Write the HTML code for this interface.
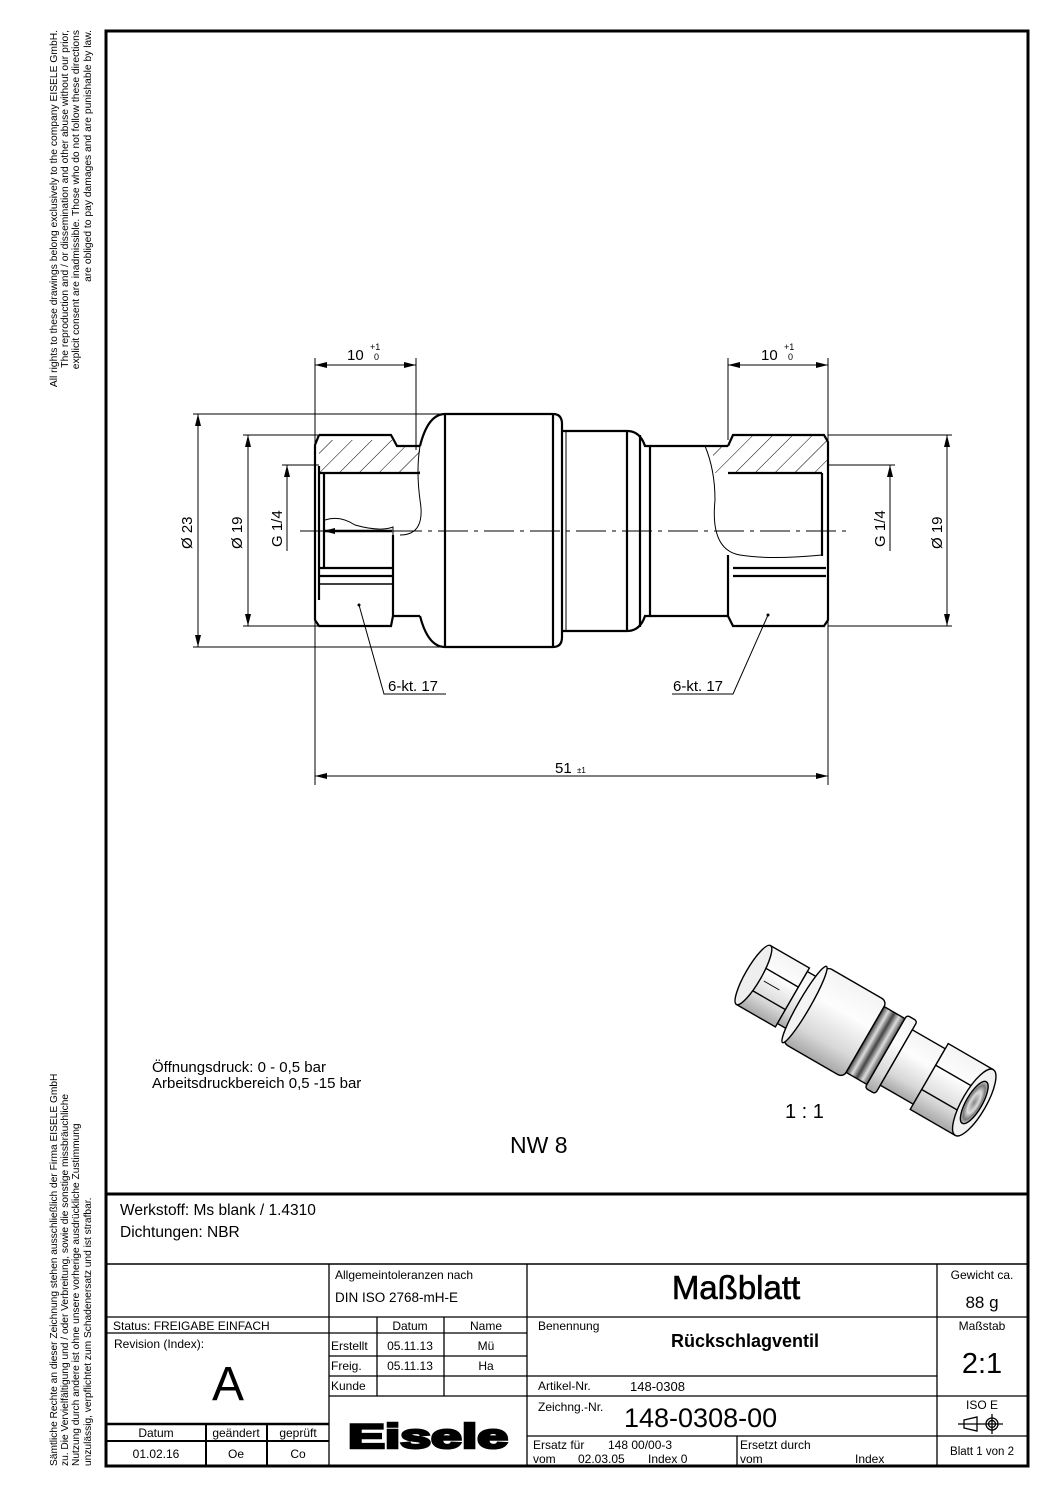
<!DOCTYPE html>
<html><head><meta charset="utf-8"><style>
html,body{margin:0;padding:0;background:#fff}
svg{display:block}
text{font-family:"Liberation Sans",sans-serif;fill:#000}
</style></head><body>
<svg width="1058" height="1497" viewBox="0 0 1058 1497" xmlns="http://www.w3.org/2000/svg">
<defs>
<pattern id="hatch" patternUnits="userSpaceOnUse" width="14" height="14" patternTransform="rotate(45)">
<line x1="0" y1="0" x2="0" y2="14" stroke="#000" stroke-width="1"/></pattern>
<marker id="ar" viewBox="0 0 12 6" refX="12" refY="3" markerWidth="12" markerHeight="6" orient="auto-start-reverse" markerUnits="userSpaceOnUse"><path d="M0,0 L12,3 L0,6 z" fill="#000"/></marker>
<linearGradient id="cyl" x1="0" y1="0" x2="0" y2="1"><stop offset="0" stop-color="#f4f4f4"/><stop offset="0.35" stop-color="#fdfdfd"/><stop offset="0.75" stop-color="#d8d8d8"/><stop offset="1" stop-color="#a8a8a8"/></linearGradient>
<linearGradient id="grv" x1="0" y1="0" x2="1" y2="0"><stop offset="0" stop-color="#444"/><stop offset="0.25" stop-color="#ddd"/><stop offset="0.5" stop-color="#444"/><stop offset="0.75" stop-color="#ddd"/><stop offset="1" stop-color="#555"/></linearGradient>
<radialGradient id="bore"><stop offset="0" stop-color="#888"/><stop offset="0.5" stop-color="#ddd"/><stop offset="0.8" stop-color="#777"/><stop offset="1" stop-color="#ccc"/></radialGradient>
</defs>

<rect x="106" y="31" width="922" height="1435" fill="none" stroke="#000" stroke-width="3"/>
<line x1="106" y1="1194" x2="1028" y2="1194" stroke="#000" stroke-width="3"/>
<line x1="106" y1="1264" x2="1028" y2="1264" stroke="#000" stroke-width="1.5"/>

<g font-size="10.3" text-anchor="end">
<text transform="translate(57,30) rotate(-90)">All rights to these drawings belong exclusively to the company EISELE GmbH.</text>
<text transform="translate(68,30) rotate(-90)">The reproduction and / or dissemination and other abuse without our prior,</text>
<text transform="translate(79,30) rotate(-90)">explicit consent are inadmissible. Those who do not follow these directions</text>
<text transform="translate(91,30) rotate(-90)">are obliged to pay damages and are punishable by law.</text>
</g>
<g font-size="10.2">
<text transform="translate(57,1466) rotate(-90)">Sämtliche Rechte an dieser Zeichnung stehen ausschließlich der Firma EISELE GmbH</text>
<text transform="translate(68,1466) rotate(-90)">zu. Die Vervielfältigung und / oder Verbreitung, sowie die sonstige missbräuchliche</text>
<text transform="translate(79,1466) rotate(-90)">Nutzung durch andere ist ohne unsere vorherige ausdrückliche Zustimmung</text>
<text transform="translate(91,1466) rotate(-90)">unzulässig, verpflichtet zum Schadenersatz und ist strafbar.</text>
</g>

<g stroke="#000" fill="none">
<path d="M319,440 L393,440 L397,446 L420,446 L420,473 L319,473 Z" fill="url(#hatch)" stroke="none"/>
<path d="M733,435 L824,435 L828,440 L828,466 L820,473 L715,473 L712,446 L728,446 Z" fill="url(#hatch)" stroke="none"/>
<g stroke-width="2.2">
<path d="M319,435 L391,435 L397,446 L420,446"/>
<path d="M319,435 L315,445 L315,620 L319,626 L391,626 L393,616 L393,535"/>
<line x1="319" y1="466" x2="319" y2="600"/>
<line x1="319" y1="473" x2="420" y2="473"/>
<line x1="324" y1="473" x2="324" y2="568"/>
<line x1="319" y1="568" x2="393" y2="568"/>
<line x1="319" y1="576" x2="393" y2="576"/>
<path d="M319,584 L393,584" stroke-width="1.5"/>
<line x1="393" y1="616" x2="420" y2="616"/>
<path d="M420,446 Q428,414 445,414 L553,414 Q562,414 562,424 L562,637 Q562,647 553,647 L445,647 Q428,647 420,616"/>
<line x1="445" y1="414" x2="445" y2="647"/>
<line x1="553" y1="414" x2="553" y2="647"/>
<path d="M562,431 L627,431 Q640,431 645,446 L650,446 L650,616 L645,616 Q640,631 627,631 L562,631"/>
<line x1="566" y1="431" x2="566" y2="631" stroke-width="1"/>
<line x1="627" y1="431" x2="627" y2="631"/>
<line x1="640" y1="435" x2="640" y2="627"/>
<line x1="650" y1="446" x2="728" y2="446"/>
<line x1="650" y1="616" x2="728" y2="616"/>
<path d="M728,446 L733,435 L824,435 L828,442 L828,620 L824,626 L733,626 L728,616"/>
<line x1="728" y1="473" x2="822" y2="473"/>
<line x1="822" y1="473" x2="822" y2="556"/>
<line x1="733" y1="568" x2="826" y2="568"/>
<line x1="733" y1="576" x2="826" y2="576"/>
<line x1="728" y1="555" x2="728" y2="616"/>
</g>
<path d="M420,446 Q416,470 420,500 Q426,535 400,535 M325,520 Q340,515 355,525 Q380,532 393,527 L393,535" stroke-width="1"/>
<path d="M705,446 Q715,470 715,500 Q710,550 740,555 Q770,560 822,555" stroke-width="1"/>
<line x1="392" y1="531" x2="323" y2="531" stroke-width="2.5" marker-end="url(#ar)"/>
<line x1="300" y1="531" x2="850" y2="531" stroke-width="1" stroke-dasharray="30,6,4,6"/>
<g stroke-width="1">
<line x1="315" y1="358" x2="315" y2="785"/>
<line x1="416" y1="358" x2="416" y2="450"/>
<line x1="315" y1="365" x2="416" y2="365" marker-start="url(#ar)" marker-end="url(#ar)"/>
<line x1="728" y1="358" x2="728" y2="440"/>
<line x1="828" y1="358" x2="828" y2="785"/>
<line x1="728" y1="365" x2="828" y2="365" marker-start="url(#ar)" marker-end="url(#ar)"/>
<line x1="315" y1="776" x2="828" y2="776" marker-start="url(#ar)" marker-end="url(#ar)"/>
<line x1="193" y1="414" x2="445" y2="414"/>
<line x1="193" y1="647" x2="445" y2="647"/>
<line x1="198" y1="414" x2="198" y2="647" marker-start="url(#ar)" marker-end="url(#ar)"/>
<line x1="243" y1="435" x2="319" y2="435"/>
<line x1="243" y1="626" x2="319" y2="626"/>
<line x1="248" y1="435" x2="248" y2="626" marker-start="url(#ar)" marker-end="url(#ar)"/>
<line x1="282" y1="465" x2="319" y2="465"/>
<line x1="287" y1="551" x2="287" y2="465" marker-end="url(#ar)"/>
<line x1="828" y1="435" x2="952" y2="435"/>
<line x1="828" y1="626" x2="952" y2="626"/>
<line x1="947" y1="435" x2="947" y2="626" marker-start="url(#ar)" marker-end="url(#ar)"/>
<line x1="828" y1="465" x2="895" y2="465"/>
<line x1="890" y1="551" x2="890" y2="465" marker-end="url(#ar)"/>
<polyline points="359,605 384,694 446,694"/>
<polyline points="768,615 733,694 672,694"/>
</g>
<circle cx="359" cy="605" r="1.5" fill="#000" stroke="none"/>
<circle cx="768" cy="615" r="1.5" fill="#000" stroke="none"/>
</g>
<g font-size="15">
<text x="347" y="360">10</text><text x="370" y="350" font-size="9">+1</text><text x="374" y="360" font-size="9">0</text>
<text x="761" y="360">10</text><text x="784" y="350" font-size="9">+1</text><text x="788" y="360" font-size="9">0</text>
<text x="555" y="773">51</text><text x="577" y="773" font-size="8">±1</text>
<text x="388" y="691">6-kt. 17</text>
<text x="673" y="691">6-kt. 17</text>
<text transform="translate(192,549) rotate(-90)">Ø 23</text>
<text transform="translate(242,549) rotate(-90)">Ø 19</text>
<text transform="translate(282,547) rotate(-90)">G 1/4</text>
<text transform="translate(885,547) rotate(-90)">G 1/4</text>
<text transform="translate(942,549) rotate(-90)">Ø 19</text>
</g>

<g transform="translate(866,1040) rotate(30) scale(1.0)" stroke="#000" stroke-width="1.4">
<rect x="-130" y="-34" width="45" height="68" fill="url(#cyl)"/>
<line x1="-130" y1="-12" x2="-85" y2="-12"/>
<line x1="-130" y1="14" x2="-85" y2="14"/>
<ellipse cx="-130" cy="0" rx="8" ry="34" fill="#eee"/>
<rect x="-85" y="-30" width="14" height="60" fill="url(#cyl)"/>
<rect x="-71" y="-44" width="70" height="88" rx="6" fill="url(#cyl)"/>
<ellipse cx="-71" cy="0" rx="6" ry="44" fill="#f4f4f4"/>
<rect x="-1" y="-38" width="24" height="76" fill="url(#grv)"/>
<rect x="23" y="-42" width="12" height="84" rx="3" fill="url(#cyl)"/>
<rect x="35" y="-32" width="38" height="64" fill="url(#cyl)"/>
<rect x="73" y="-38" width="52" height="76" fill="url(#cyl)"/>
<line x1="73" y1="-13" x2="125" y2="-13"/>
<line x1="73" y1="15" x2="125" y2="15"/>
<ellipse cx="125" cy="0" rx="12" ry="38" fill="#f2f2f2"/>
<ellipse cx="125" cy="0" rx="8" ry="24" fill="url(#bore)"/>
<line x1="-118" y1="0" x2="-100" y2="0" stroke-width="1"/>
</g>
<text x="785" y="1118" font-size="20">1 : 1</text>

<g font-size="15">
<text x="152" y="1072">Öffnungsdruck: 0 - 0,5 bar</text>
<text x="152" y="1088">Arbeitsdruckbereich 0,5 -15 bar</text>
</g>
<text x="510" y="1153" font-size="23">NW 8</text>
<g font-size="15.5">
<text x="120" y="1215">Werkstoff: Ms blank / 1.4310</text>
<text x="120" y="1237">Dichtungen: NBR</text>
</g>

<g stroke="#000" stroke-width="1.3">
<line x1="329" y1="1264" x2="329" y2="1466"/>
<line x1="527" y1="1264" x2="527" y2="1466"/>
<line x1="937" y1="1264" x2="937" y2="1466"/>
<line x1="106" y1="1317" x2="1028" y2="1317"/>
<line x1="106" y1="1333" x2="527" y2="1333"/>
<line x1="106" y1="1424" x2="329" y2="1424" stroke-width="2.5"/>
<line x1="106" y1="1441" x2="329" y2="1441" stroke-width="2"/>
<line x1="206" y1="1424" x2="206" y2="1466" stroke-width="2"/>
<line x1="267" y1="1424" x2="267" y2="1466" stroke-width="2"/>
<line x1="377" y1="1317" x2="377" y2="1396"/>
<line x1="444" y1="1317" x2="444" y2="1396"/>
<line x1="329" y1="1356" x2="527" y2="1356"/>
<line x1="329" y1="1376" x2="937" y2="1376"/>
<line x1="329" y1="1396" x2="1028" y2="1396"/>
<line x1="527" y1="1436" x2="1028" y2="1436"/>
<line x1="737" y1="1436" x2="737" y2="1466"/>
</g>

<g font-size="12">
<text x="335" y="1279">Allgemeintoleranzen nach</text>
<text x="335" y="1302" font-size="13.5">DIN ISO 2768-mH-E</text>
<text x="113" y="1330">Status: FREIGABE EINFACH</text>
<text x="114" y="1348">Revision (Index):</text>
<text x="410" y="1330" text-anchor="middle">Datum</text>
<text x="486" y="1330" text-anchor="middle">Name</text>
<text x="331" y="1350">Erstellt</text>
<text x="410" y="1350" text-anchor="middle">05.11.13</text>
<text x="486" y="1350" text-anchor="middle">Mü</text>
<text x="331" y="1370">Freig.</text>
<text x="410" y="1370" text-anchor="middle">05.11.13</text>
<text x="486" y="1370" text-anchor="middle">Ha</text>
<text x="331" y="1390">Kunde</text>
<text x="156" y="1437" text-anchor="middle">Datum</text>
<text x="236" y="1437" text-anchor="middle">geändert</text>
<text x="298" y="1437" text-anchor="middle">geprüft</text>
<text x="156" y="1458" text-anchor="middle">01.02.16</text>
<text x="236" y="1458" text-anchor="middle">Oe</text>
<text x="298" y="1458" text-anchor="middle">Co</text>
<text x="538" y="1330">Benennung</text>
<text x="538" y="1390">Artikel-Nr.</text>
<text x="630" y="1391" font-size="13">148-0308</text>
<text x="538" y="1411">Zeichng.-Nr.</text>
<text x="533" y="1449">Ersatz für</text><text x="608" y="1449">148 00/00-3</text>
<text x="533" y="1463">vom</text><text x="578" y="1463">02.03.05</text><text x="648" y="1463">Index  0</text>
<text x="740" y="1449">Ersetzt durch</text>
<text x="740" y="1463">vom</text><text x="855" y="1463">Index</text>
<text x="982" y="1279" text-anchor="middle">Gewicht ca.</text>
<text x="982" y="1330" text-anchor="middle">Maßstab</text>
<text x="982" y="1409" text-anchor="middle">ISO E</text>
<text x="982" y="1455" text-anchor="middle" font-size="11.5">Blatt 1 von 2</text>
</g>
<text x="228" y="1400" font-size="48" text-anchor="middle">A</text>
<text x="736" y="1299" font-size="33" text-anchor="middle" stroke="#000" stroke-width="0.6">Maßblatt</text>
<text x="745" y="1347" font-size="18" font-weight="bold" text-anchor="middle">Rückschlagventil</text>
<text x="624" y="1427" font-size="27">148-0308-00</text>
<text x="982" y="1308" font-size="17" text-anchor="middle">88 g</text>
<text x="982" y="1373" font-size="29" text-anchor="middle">2:1</text>
<g stroke="#000" stroke-width="1.3" fill="none">
<path d="M964,1420 L977,1417 L977,1431 L964,1428 Z"/>
<line x1="958" y1="1424" x2="1003" y2="1424"/>
<circle cx="992" cy="1424" r="6"/><circle cx="992" cy="1424" r="3.5"/>
<line x1="992" y1="1414" x2="992" y2="1434"/>
</g>
<text x="428" y="1448" font-size="34" font-weight="bold" text-anchor="middle" textLength="160" lengthAdjust="spacingAndGlyphs" stroke="#000" stroke-width="2.5">Eisele</text>
</svg>
</body></html>
